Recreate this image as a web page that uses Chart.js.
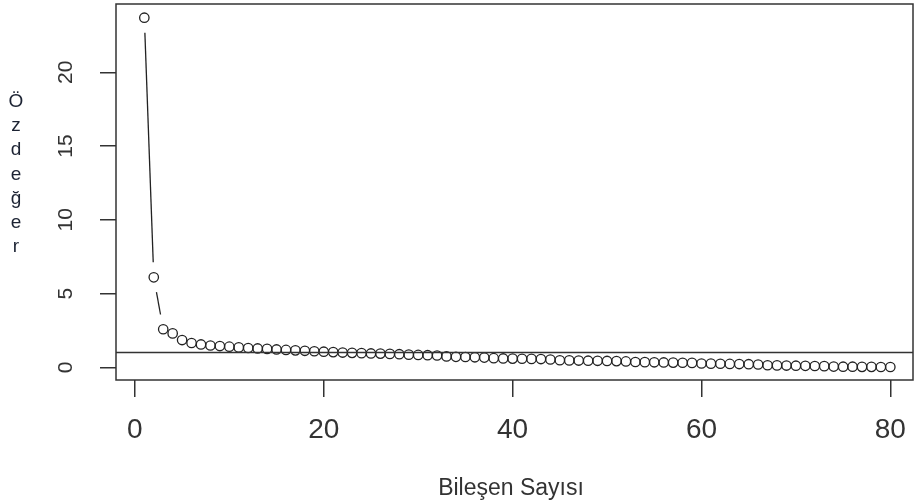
<!DOCTYPE html>
<html lang="tr">
<head>
  <meta charset="UTF-8">
  <title>Özdeğer - Bileşen Sayısı</title>
  <script src="https://cdn.jsdelivr.net/npm/chart.js"></script>
  <style>
    body {
      margin: 0;
      padding: 0;
      background-color: #ffffff;
    }
    canvas {
      display: block;
    }
  </style>
</head>
<body>
  <canvas id="screePlot" width="915" height="504"></canvas>

  <script>
    // scree plot data
    const componentNumbers = [
      1, 2, 3, 4, 5, 6, 7, 8, 9, 10,
      11, 12, 13, 14, 15, 16, 17, 18, 19, 20,
      21, 22, 23, 24, 25, 26, 27, 28, 29, 30,
      31, 32, 33, 34, 35, 36, 37, 38, 39, 40,
      41, 42, 43, 44, 45, 46, 47, 48, 49, 50,
      51, 52, 53, 54, 55, 56, 57, 58, 59, 60,
      61, 62, 63, 64, 65, 66, 67, 68, 69, 70,
      71, 72, 73, 74, 75, 76, 77, 78, 79, 80
    ];
    const eigenvalues = [
      23.7, 6.1, 2.58, 2.3, 1.85, 1.65, 1.55, 1.48, 1.44, 1.40,
      1.35, 1.31, 1.28, 1.25, 1.21, 1.18, 1.15, 1.12, 1.09, 1.06,
      1.03, 1.00, 0.98, 0.96, 0.94, 0.93, 0.91, 0.89, 0.86, 0.84,
      0.82, 0.80, 0.74, 0.71, 0.70, 0.68, 0.66, 0.62, 0.60, 0.59,
      0.58, 0.57, 0.56, 0.53, 0.48, 0.47, 0.46, 0.45, 0.44, 0.43,
      0.42, 0.40, 0.36, 0.35, 0.34, 0.33, 0.32, 0.31, 0.30, 0.26,
      0.25, 0.24, 0.23, 0.22, 0.21, 0.19, 0.14, 0.13, 0.12, 0.11,
      0.10, 0.09, 0.08, 0.05, 0.04, 0.04, 0.03, 0.03, 0.02, 0.02
    ];
    const xTickValues = [0, 20, 40, 60, 80];
    const yTickValues = [0, 5, 10, 15, 20];
    const cutoffLine = 1;
    const xTitle = 'Bileşen Sayısı';
    const yTitle = 'Özdeğer';

    const points = componentNumbers.map((n, i) => ({ x: n, y: eigenvalues[i] }));
    const textColor = '#333333';
    const fontFamily = '"Liberation Sans", Arial, sans-serif';

    // R style extras: box, h line, gapped connectors, rotated y labels
    const rStyle = {
      id: 'rStyle',
      afterDatasetsDraw(chart) {
        const ctx = chart.ctx;
        const area = chart.chartArea;
        const xs = chart.scales.x;
        const ys = chart.scales.y;
        ctx.save();

        // type = "b" connectors, stopped short of each circle
        const gap = 15;
        ctx.strokeStyle = '#222222';
        ctx.lineWidth = 1.3;
        for (let i = 0; i < points.length - 1; i++) {
          const x1 = xs.getPixelForValue(points[i].x), y1 = ys.getPixelForValue(points[i].y);
          const x2 = xs.getPixelForValue(points[i + 1].x), y2 = ys.getPixelForValue(points[i + 1].y);
          const d = Math.hypot(x2 - x1, y2 - y1);
          if (d <= gap * 2) continue;
          const ux = (x2 - x1) / d, uy = (y2 - y1) / d;
          ctx.beginPath();
          ctx.moveTo(x1 + ux * gap, y1 + uy * gap);
          ctx.lineTo(x2 - ux * gap, y2 - uy * gap);
          ctx.stroke();
        }

        // abline(h = 1)
        const yLine = ys.getPixelForValue(cutoffLine);
        ctx.strokeStyle = '#333333';
        ctx.lineWidth = 1.5;
        ctx.beginPath();
        ctx.moveTo(area.left, yLine);
        ctx.lineTo(area.right, yLine);
        ctx.stroke();

        // box
        ctx.strokeRect(area.left, area.top, area.right - area.left, area.bottom - area.top);

        // y tick labels, rotated like R's las = 0
        ctx.fillStyle = textColor;
        ctx.font = '21px ' + fontFamily;
        ctx.textAlign = 'center';
        ctx.textBaseline = 'alphabetic';
        yTickValues.forEach(v => {
          ctx.save();
          ctx.translate(72, ys.getPixelForValue(v));
          ctx.rotate(-Math.PI / 2);
          ctx.fillText(String(v), 0, 0);
          ctx.restore();
        });

        // y title, one letter per line
        ctx.fillStyle = '#1c2333';
        ctx.font = '19px ' + fontFamily;
        [...yTitle].forEach((ch, i) => {
          ctx.fillText(ch, 16, 107 + i * 24.2);
        });

        // x title
        ctx.fillStyle = textColor;
        ctx.font = '23px ' + fontFamily;
        ctx.fillText(xTitle, 511, 495);

        ctx.restore();
      }
    };

    new Chart(document.getElementById('screePlot').getContext('2d'), {
      type: 'scatter',
      data: {
        datasets: [{
          data: points,
          showLine: false,
          pointStyle: 'circle',
          pointRadius: 4.7,
          pointBorderWidth: 1.3,
          pointBorderColor: '#222222',
          pointBackgroundColor: 'rgba(0,0,0,0)'
        }]
      },
      options: {
        responsive: false,
        animation: false,
        devicePixelRatio: 1,
        layout: { autoPadding: false, padding: { top: 4, right: 2, left: 0, bottom: 0 } },
        plugins: {
          legend: { display: false },
          tooltip: { enabled: false }
        },
        scales: {
          x: {
            type: 'linear',
            min: -2,
            max: 82.4,
            afterFit(scale) {
              scale.height = 124;
              scale.paddingLeft = 0;
              scale.paddingRight = 0;
            },
            afterBuildTicks(scale) { scale.ticks = xTickValues.map(v => ({ value: v })); },
            border: { display: false },
            grid: {
              drawOnChartArea: false,
              drawTicks: true,
              tickLength: 17,
              color: '#333333',
              lineWidth: 1.5
            },
            ticks: {
              autoSkip: false,
              maxRotation: 0,
              padding: 16,
              color: textColor,
              font: { family: fontFamily, size: 28 }
            }
          },
          y: {
            type: 'linear',
            min: -0.86,
            max: 24.63,
            afterFit(scale) {
              scale.width = 116;
              scale.paddingTop = 0;
              scale.paddingBottom = 0;
            },
            afterBuildTicks(scale) { scale.ticks = yTickValues.map(v => ({ value: v })); },
            border: { display: false },
            grid: {
              drawOnChartArea: false,
              drawTicks: true,
              tickLength: 16,
              color: '#333333',
              lineWidth: 1.5
            },
            ticks: { display: false }
          }
        }
      },
      plugins: [rStyle]
    });
  </script>
</body>
</html>
